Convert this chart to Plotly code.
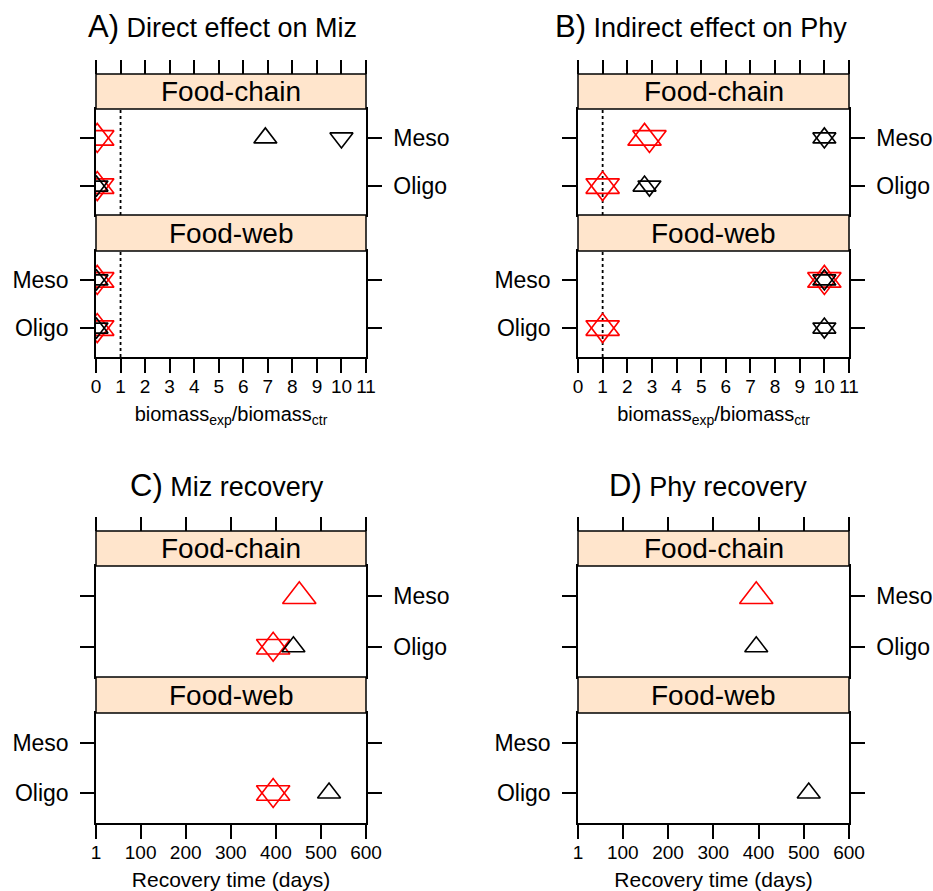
import plotly.graph_objects as go

# ---------------- data ----------------
ROWS = ["Meso", "Oligo"]            # order of the values in every list below
ROW_POS = {"Oligo": 1, "Meso": 2}
SUBPANELS = ["Food-chain", "Food-web"]
REF_RATIO = 1                       # dotted reference line (exp = ctr)

RATIO_TICKS = list(range(0, 12))
DAY_TICKS = [1, 100, 200, 300, 400, 500, 600]

# A) Direct effect on Miz  (biomass_exp / biomass_ctr)
A_chain_red_up = [0.05, 0.05]
A_chain_red_down = [0.05, 0.05]
A_chain_black_up = [6.9, 0.02]
A_chain_black_down = [10, 0.02]
A_web_red_up = [0.05, 0.05]
A_web_red_down = [0.05, 0.05]
A_web_black_up = [0.02, 0.02]
A_web_black_down = [0.02, 0.02]

# B) Indirect effect on Phy
B_chain_red_up = [2.7, 1.0]
B_chain_red_down = [2.9, 1.0]
B_chain_black_up = [10, 2.7]
B_chain_black_down = [10, 2.9]
B_web_red_up = [10, 1.0]
B_web_red_down = [10, 1.0]
B_web_black_up = [10, 10]
B_web_black_down = [10, 10]

# C) Miz recovery (days)
C_chain_red_up = [452, 394]
C_chain_red_down = [None, 394]
C_chain_black_up = [None, 439]
C_chain_black_down = [None, None]
C_web_red_up = [None, 394]
C_web_red_down = [None, 394]
C_web_black_up = [None, 518]
C_web_black_down = [None, None]

# D) Phy recovery (days)
D_chain_red_up = [395, None]
D_chain_red_down = [None, None]
D_chain_black_up = [None, 395]
D_chain_black_down = [None, None]
D_web_red_up = [None, None]
D_web_red_down = [None, None]
D_web_black_up = [None, 511]
D_web_black_down = [None, None]

PANEL_TITLES = ["A)", "B)", "C)", "D)"]
PANEL_NAMES = ["Direct effect on Miz", "Indirect effect on Phy",
               "Miz recovery", "Phy recovery"]
XTITLE_RATIO = "biomass<sub>exp</sub>/biomass<sub>ctr</sub>"
XTITLE_DAYS = "Recovery time (days)"

# ---------------- styles / layout ----------------
W, H = 933, 891
FONT = "Liberation Sans, Arial, Helvetica, sans-serif"
STRIP_FILL = "#FFE5CC"
LW = 1.5

SERIES_STYLE = {
    "red_up": ("triangle-up-open", "#FF0000", 29),
    "red_down": ("triangle-down-open", "#FF0000", 29),
    "black_up": ("triangle-up-open", "#000000", 20),
    "black_down": ("triangle-down-open", "#000000", 20),
}

panel_data = [
    [
        {"red_up": A_chain_red_up, "red_down": A_chain_red_down,
         "black_up": A_chain_black_up, "black_down": A_chain_black_down},
        {"red_up": A_web_red_up, "red_down": A_web_red_down,
         "black_up": A_web_black_up, "black_down": A_web_black_down},
    ],
    [
        {"red_up": B_chain_red_up, "red_down": B_chain_red_down,
         "black_up": B_chain_black_up, "black_down": B_chain_black_down},
        {"red_up": B_web_red_up, "red_down": B_web_red_down,
         "black_up": B_web_black_up, "black_down": B_web_black_down},
    ],
    [
        {"red_up": C_chain_red_up, "red_down": C_chain_red_down,
         "black_up": C_chain_black_up, "black_down": C_chain_black_down},
        {"red_up": C_web_red_up, "red_down": C_web_red_down,
         "black_up": C_web_black_up, "black_down": C_web_black_down},
    ],
    [
        {"red_up": D_chain_red_up, "red_down": D_chain_red_down,
         "black_up": D_chain_black_up, "black_down": D_chain_black_down},
        {"red_up": D_web_red_up, "red_down": D_web_red_down,
         "black_up": D_web_black_up, "black_down": D_web_black_down},
    ],
]

# pixel geometry of each panel: x extent, strip tops, plot extents
X_EXT = [(96, 366), (578, 849), (96, 366), (578, 849)]
TOP_GEOM = {"strip1": 74, "plot1": (109, 215), "strip2": 215, "plot2": (251, 357), "title": 27}
BOT_GEOM = {"strip1": 531, "plot1": (566, 677), "strip2": 677, "plot2": (713, 823), "title": 486}
TITLE_X = [222, 701, 227, 708]


def xf(px):
    return px / W


def yf(py):
    return 1 - py / H


def axname(k, letter):
    return letter if k == 1 else f"{letter}{k}"


def laykey(k, letter):
    return f"{letter}axis" if k == 1 else f"{letter}axis{k}"


fig = go.Figure()
shapes = []
annotations = []
layout_axes = {}

for p in range(4):
    geom = TOP_GEOM if p < 2 else BOT_GEOM
    x0, x1 = X_EXT[p]
    is_ratio = p < 2
    xticks = RATIO_TICKS if is_ratio else DAY_TICKS
    xrange = [0, 11] if is_ratio else [1, 600]

    for s in range(2):
        k = p * 2 + s + 1
        xa, ya = axname(k, "x"), axname(k, "y")
        top, bot = geom["plot1"] if s == 0 else geom["plot2"]
        strip_top = geom["strip1"] if s == 0 else geom["strip2"]

        # data
        for key, (sym, col, size) in SERIES_STYLE.items():
            vals = panel_data[p][s][key]
            fig.add_trace(go.Scatter(
                x=vals, y=[ROW_POS[r] for r in ROWS], mode="markers",
                xaxis=xa, yaxis=ya, showlegend=False, hoverinfo="skip",
                marker=dict(symbol=sym, size=size, color=col,
                            line=dict(color=col, width=1.6)),
            ))

        common_x = dict(domain=[xf(x0), xf(x1)], range=xrange, anchor=ya,
                        showgrid=False, zeroline=False, showline=True,
                        linecolor="black", linewidth=LW, mirror=True,
                        tickvals=xticks, fixedrange=True, automargin=False)
        if s == 0:
            common_x.update(ticks="", showticklabels=False)
        else:
            common_x.update(ticks="outside", ticklen=14, tickwidth=LW,
                            tickcolor="black", showticklabels=True,
                            ticklabelstandoff=-3,
                            tickfont=dict(family=FONT, size=19, color="black"),
                            title=dict(text=XTITLE_RATIO if is_ratio else XTITLE_DAYS,
                                       font=dict(family=FONT, size=20 if is_ratio else 21,
                                                 color="black"),
                                       standoff=11 if is_ratio else 13))
        layout_axes[laykey(k, "x")] = common_x

        layout_axes[laykey(k, "y")] = dict(
            domain=[yf(bot), yf(top)], range=[0.4, 2.6], anchor=xa,
            tickvals=[ROW_POS[r] for r in ROWS], ticktext=ROWS,
            side="right" if s == 0 else "left", ticks="outside", ticklen=14,
            tickwidth=LW, tickcolor="black", mirror="ticks", showline=True,
            linecolor="black", linewidth=LW, showgrid=False, zeroline=False,
            tickfont=dict(family=FONT, size=23, color="black"),
            ticklabelstandoff=7, fixedrange=True, automargin=False,
        )

        # strip
        shapes.append(dict(type="rect", xref="paper", yref="paper",
                           x0=xf(x0), x1=xf(x1), y0=yf(top), y1=yf(strip_top),
                           fillcolor=STRIP_FILL, line=dict(color="black", width=LW),
                           layer="above"))
        annotations.append(dict(text=SUBPANELS[s], xref="paper", yref="paper",
                                x=xf((x0 + x1) / 2), y=yf((top + strip_top) / 2),
                                showarrow=False, xanchor="center", yanchor="middle",
                                font=dict(family=FONT, size=28, color="black")))

        # reference line
        if is_ratio:
            shapes.append(dict(type="line", xref=xa, yref=f"{ya} domain",
                               x0=REF_RATIO, x1=REF_RATIO, y0=0, y1=1,
                               line=dict(color="black", width=1.8, dash="dot"),
                               layer="below"))

    # top tick axis (above the first strip)
    kt = 8 + p + 1
    chain_k = p * 2 + 1
    layout_axes[laykey(kt, "x")] = dict(
        overlaying=axname(chain_k, "x"), anchor="free", position=yf(geom["strip1"]),
        side="top", range=xrange, tickvals=xticks, ticks="outside", ticklen=14,
        tickwidth=LW, tickcolor="black", showticklabels=False, showline=False,
        showgrid=False, zeroline=False, fixedrange=True, automargin=False,
    )
    fig.add_trace(go.Scatter(x=[None], y=[None], xaxis=axname(kt, "x"),
                             yaxis=axname(chain_k, "y"), mode="markers",
                             showlegend=False, hoverinfo="skip"))

    # panel title
    annotations.append(dict(
        text=f"<span style='font-size:31px'>{PANEL_TITLES[p]}</span> {PANEL_NAMES[p]}",
        xref="paper", yref="paper", x=xf(TITLE_X[p]), y=yf(geom["title"]),
        showarrow=False, xanchor="center", yanchor="middle",
        font=dict(family=FONT, size=27, color="black")))

fig.update_layout(
    width=W, height=H, margin=dict(l=0, r=0, t=0, b=0, autoexpand=False),
    paper_bgcolor="white", plot_bgcolor="white",
    shapes=shapes, annotations=annotations, showlegend=False,
    font=dict(family=FONT, color="black"),
    **layout_axes,
)

fig.write_html("out.html", config={"displayModeBar": False},
               post_script="document.body.style.margin='0';document.body.style.overflow='hidden';")
